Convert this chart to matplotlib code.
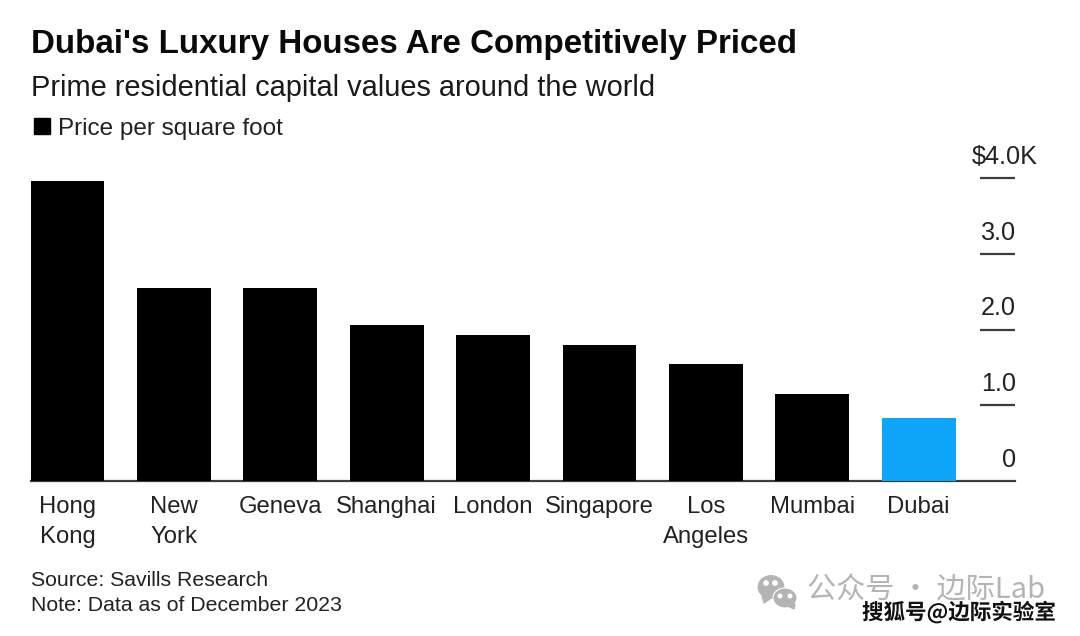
import matplotlib
matplotlib.use('Agg')
import matplotlib.pyplot as plt
import matplotlib.patheffects as pe
from matplotlib.patches import Ellipse, Polygon, Rectangle

# values, in $K per square foot
cities = ['Hong\nKong', 'New\nYork', 'Geneva', 'Shanghai', 'London', 'Singapore', 'Los\nAngeles', 'Mumbai', 'Dubai']
prices = [3.96, 2.55, 2.55, 2.06, 1.93, 1.79, 1.54, 1.15, 0.83]
bar_colors = ['#000000'] * 8 + ['#0ea5fb']
tick_values = [0, 1, 2, 3, 4]
tick_labels = ['0', '1.0', '2.0', '3.0', '$4.0K']

W, H = 1080, 636
plt.rcParams['font.family'] = ['Liberation Sans', 'DejaVu Sans']
fig = plt.figure(figsize=(W / 100, H / 100), dpi=100, facecolor='white')


def px_axes(left, top, right, bottom):
    return fig.add_axes([left / W, 1 - bottom / H, (right - left) / W, (bottom - top) / H])


def fig_text(x, y, s, **kw):
    # x, y are pixels from the top left
    return fig.text(x / W, 1 - y / H, s, va='center', ha=kw.pop('ha', 'left'), **kw)


ax = px_axes(31, 178, 1015, 481)
ax.bar(range(len(cities)), prices, width=0.695, color=bar_colors, zorder=3)
ax.set_xlim(-0.343, 8.905)
ax.set_ylim(0, 4)
ax.set_facecolor('none')

for side in ['top', 'left', 'right']:
    ax.spines[side].set_visible(False)
ax.spines['bottom'].set_color('#3c3c3c')
ax.spines['bottom'].set_linewidth(1.6)

ax.set_xticks(range(len(cities)))
ax.set_xticklabels(cities, fontsize=17.2, color='#222222', linespacing=1.45, va='top')
ax.tick_params(axis='x', length=0, pad=11)

# ticks sit inside the right edge, labels right aligned just above them
ax.yaxis.tick_right()
ax.set_yticks(tick_values[1:])
ax.set_yticklabels([])
ax.tick_params(axis='y', direction='in', length=25.5, width=1.6, color='#3c3c3c')
for v, lab in zip(tick_values, tick_labels):
    x = 1.0235 if lab.startswith('$') else 1.001
    ax.annotate(lab, (x, v), xycoords=('axes fraction', 'data'), xytext=(0, 6.5), textcoords='offset points',
                ha='right', va='bottom', fontsize=18.2, color='#222222')

fig_text(31, 44, "Dubai's Luxury Houses Are Competitively Priced", fontsize=23.85, fontweight='bold', color='#0a0a0a')
fig_text(31, 87.5, 'Prime residential capital values around the world', fontsize=20.9, color='#1a1a1a')
fig_text(58, 128.5, 'Price per square foot', fontsize=17.5, color='#222222')
fig.add_artist(Rectangle((34 / W, 1 - 134 / H), 16 / W, 16 / H, color='black', transform=fig.transFigure))
fig_text(31, 580.5, 'Source: Savills Research', fontsize=15.35, color='#222222')
fig_text(31, 605.5, 'Note: Data as of December 2023', fontsize=15.35, color='#222222')

# watermarks
gray = '#b4b4b4'
for cx, cy, w, h in [(771, 587, 28, 25), (785, 598, 24, 20)]:
    fig.add_artist(Ellipse((cx / W, 1 - cy / H), w / W, h / H, facecolor=gray, edgecolor='white', lw=0.8,
                           transform=fig.transFigure))
fig.add_artist(Polygon([(762 / W, 1 - 596 / H), (770 / W, 1 - 599 / H), (764 / W, 1 - 603 / H)], color=gray,
                       transform=fig.transFigure))
fig.add_artist(Polygon([(788 / W, 1 - 606 / H), (795 / W, 1 - 604 / H), (794 / W, 1 - 609 / H)], color=gray,
                       transform=fig.transFigure))
# eyes of the two bubbles
for cx, cy, r in [(766, 583, 2.2), (775, 583, 2.2), (780, 596, 1.8), (790, 596, 1.8)]:
    fig.add_artist(Ellipse((cx / W, 1 - cy / H), 2 * r / W, 2 * r / H, color='white', transform=fig.transFigure))
cjk = ['Noto Sans CJK SC', 'DejaVu Sans']
fig_text(807, 590, '公众号 · 边际Lab', fontsize=21, color=gray, family=cjk)
sohu = fig_text(862, 612.5, '搜狐号@边际实验室', fontsize=15.5, color='#111111', family=cjk, fontweight='bold')
sohu.set_path_effects([pe.withStroke(linewidth=2, foreground='white')])

fig.savefig('out.png', dpi=100)
